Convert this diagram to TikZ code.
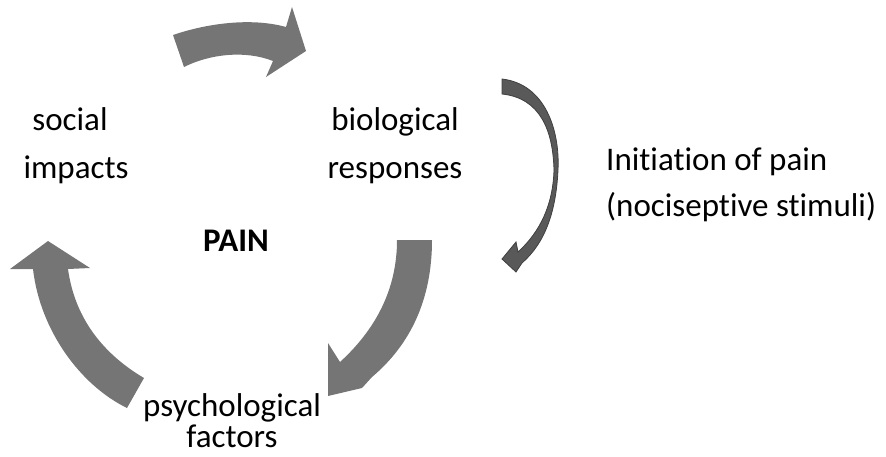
\documentclass[tikz,border=0pt]{standalone}
\usepackage{fontspec}
\setmainfont[Ligatures=NoCommon]{Carlito}
\begin{document}
\begin{tikzpicture}[x=1pt,y=-1pt,
  bigarrow/.style={fill=black!54,draw=none},
  thinarrow/.style={fill=black!65,draw=black!75,line width=0.8pt},
  lbl/.style={font=\fontsize{33}{40}\selectfont,anchor=base,inner sep=0pt},
  lbll/.style={font=\fontsize{33}{40}\selectfont,anchor=base west,inner sep=0pt}]
\useasboundingbox (0,0) rectangle (886,456);
% top arrow
\fill[bigarrow] (173,35) .. controls (205,24) and (250,17) .. (286,27)
  -- (292,7) -- (306,51) -- (266,77) -- (273,61)
  .. controls (245,50) and (210,54) .. (184,67) -- cycle;
% right thin arrow
\filldraw[thinarrow] (502,79) .. controls (545,84) and (560,130) .. (558,170)
  .. controls (556,212) and (545,243) .. (522,263)
  -- (516,272) -- (502,259) -- (516,242) -- (518,252)
  .. controls (540,232) and (553,205) .. (554,170)
  .. controls (553,130) and (540,98) .. (502,94) -- cycle;
% bottom-right arrow
\fill[bigarrow] (397,240) -- (432,240)
  .. controls (432,300) and (410,345) .. (372,377)
  -- (362,388) -- (328,396) -- (328,343) -- (340,362)
  .. controls (375,330) and (397,290) .. (397,240) -- cycle;
% left arrow
\fill[bigarrow] (48,241) -- (90,268) -- (68,269)
  .. controls (75,320) and (105,355) .. (144,378)
  -- (127,408)
  .. controls (80,385) and (40,330) .. (33,269)
  -- (10,269) -- cycle;
\node[lbl] (s1) at (70,130) {social};
\node[lbl] (s2) at (76,178) {impacts};
\node[lbl] (b1) at (395,130) {biological};
\node[lbl] (b2) at (395,178) {responses};
\node[lbl,font=\fontsize{33}{40}\selectfont\bfseries] (p) at (236,251) {PAIN};
\node[lbl] (f1) at (232,416) {psychological};
\node[lbl] (f2) at (232,447) {factors};
\node[lbll] (i1) at (606,170) {Initiation of pain};
\node[lbll] (i2) at (606,216) {(nociseptive stimuli)};
\end{tikzpicture}
\end{document}
